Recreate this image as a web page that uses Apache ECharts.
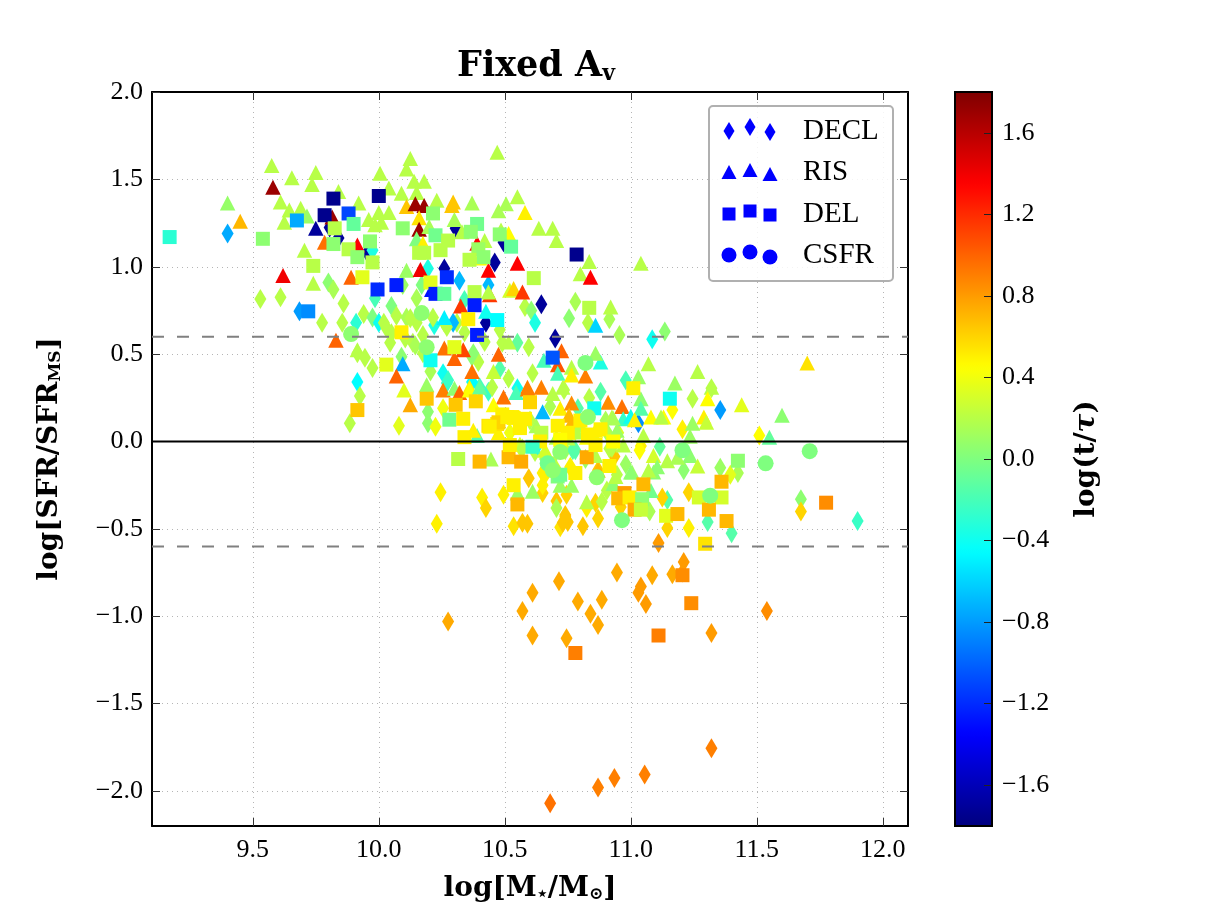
<!DOCTYPE html>
<html>
<head>
<meta charset="utf-8">
<title>Fixed Av</title>
<script src="https://cdn.jsdelivr.net/npm/echarts@6/dist/echarts.min.js"></script>
<style>html,body{margin:0;padding:0;background:#fff}#chart{width:1219px;height:919px}</style>
</head>
<body>
<div id="chart"></div>
<script>
// Star-forming galaxies by SFH class: [log stellar mass, log SFR/SFR_MS, log t/tau]
const decl = [
[9.40,1.19,-.75],[9.53,.815,.2],[9.61,.826,.2],[9.80,.91,.05],[9.82,.87,.15],[9.86,.79,.2],[9.775,.68,.2],[9.855,.68,.2],
[9.685,.745,-.8],[9.91,.68,-.3],[9.94,.73,.2],[9.985,.82,-.2],[10.05,.775,0],[10.07,.72,.2],[9.975,.71,0],[10.0,.68,-.4],
[10.02,.68,.2],[10.03,.65,.2],[10.05,.62,.2],[10.11,.71,.15],[10.15,.82,.15],[10.17,.895,0],[10.195,.99,-.35],[10.095,.895,.1],
[10.26,.99,-1.7],[9.805,1.225,-1.7],[9.84,1.165,-1.7],[9.955,1.08,-1.7],[9.975,1.095,-.35],[10.22,.665,-.35],[10.26,.68,.2],
[10.15,.68,.2],[10.215,.71,.2],[10.175,.61,.2],[10.105,.59,.2],[10.135,.565,.2],[10.045,.565,.2],[10.305,1.22,-1.7],
[10.495,1.14,-1.7],[10.46,1.025,-1.7],[10.32,.92,-.7],[10.435,.895,-.7],[10.645,.785,-1.7],[10.58,.77,.2],[10.605,.75,.05],
[10.78,.80,.15],[10.755,.705,.05],[10.62,.68,-.35],[10.83,.68,.2],[10.915,.70,.15],[10.955,.61,.15],[11.085,.585,-.4],
[11.135,.63,.05],[10.70,.59,-1.7],[10.425,.68,-1.7],[10.48,.64,.2],[10.34,.81,-.2],[10.31,.68,.2],[10.295,.68,-.7],
[10.34,.625,.2],[10.42,.57,.2],[10.49,.565,.2],[10.55,.565,-.1],[10.595,.54,.2],[10.37,.485,.05],[10.395,.455,.2],
[10.48,.415,-.15],[10.515,.36,.2],[10.61,.39,.2],[10.98,.35,-.2],[10.55,.305,-.4],[10.40,.31,-.2],[9.915,.505,.2],
[9.945,.48,.2],[9.975,.42,.2],[9.915,.34,-.45],[9.925,.26,.2],[9.885,.105,.2],[10.08,.09,.35],[10.195,.17,.05],
[10.195,.105,.05],[10.225,.085,.4],[10.255,.19,.4],[10.145,.55,.15],[10.09,.485,.05],[10.205,.40,.15],[10.255,.39,-.4],
[10.375,.505,.05],[10.735,.295,.2],[10.245,-.29,.5],[10.23,-.47,.5],[10.41,-.32,.5],[10.425,-.38,.6],[10.495,-.305,.5],
[10.595,-.21,.65],[10.65,-.295,.6],[10.705,-.34,.65],[10.705,-.38,.15],[10.535,-.485,.55],[10.57,-.465,.65],[10.59,-.47,.65],
[10.72,-.49,.55],[10.74,-.43,.65],[10.65,-.18,.5],[10.27,.335,-.25],[10.435,.285,-.25],[10.45,.31,.2],[11.245,.245,.2],
[11.32,.305,.2],[11.355,.18,-.8],[11.03,.105,-.85],[10.88,.285,-.15],[10.835,.25,.2],[10.79,.19,-.15],[11.165,.18,.45],
[11.205,.07,.5],[11.51,.035,.45],[11.04,-.025,.5],[11.115,-.03,-.1],[11.21,-.165,.05],[11.355,-.15,.1],[11.425,-.18,.15],
[11.395,-.19,.35],[11.145,-.335,-.15],[11.125,-.32,.6],[11.23,-.29,.6],[11.075,-.40,.15],[11.145,-.495,.6],[11.23,-.495,.5],
[11.305,-.46,-.15],[11.40,-.525,-.15],[11.675,-.33,.05],[11.675,-.40,.6],[11.90,-.455,-.25],[11.11,-.58,.8],[10.825,-.38,.5],
[10.86,-.35,.6],[10.885,-.345,.2],[10.87,-.44,.6],[10.81,-.485,.65],[10.745,-.305,.6],[10.74,-.42,.65],[10.75,-.46,.65],
[10.73,-.465,.65],[10.935,-.085,.65],[10.87,-.165,.65],[10.76,-.15,.5],[10.905,-.28,.2],[10.96,-.375,.6],[10.925,-.035,.2],
[10.78,-.05,-.15],[10.52,.05,.4],[10.56,-.03,.3],[10.62,-.06,.2],[10.66,-.1,.1],[10.7,-.15,.3],[10.74,-.05,.2],[10.78,.06,.4],
[10.82,-.1,.1],[10.86,0,.3],[10.9,.12,.15],[10.95,.05,.3],[10.98,-.13,.1],[10.6,.12,.2],[10.68,.2,.15],
[10.76,.077,.7],[10.905,.055,.15],[10.915,-.04,.2],[10.52,-.04,.3],[10.57,-.04,.2],[10.63,-.02,-.45],[10.77,-.05,-.15],[10.76,-.145,.5],
[10.66,-.19,.5],[10.65,-.25,.5],[10.945,-.19,.2],[11.035,-.05,.45],[10.125,.705,.2],[10.27,.655,.2],[10.175,.505,.2],[10.275,.35,-.25],[10.37,.34,-.45],
[10.275,-1.03,.75],[10.57,-.97,.75],[10.61,-.865,.75],[10.61,-1.11,.75],[10.715,-.8,.75],[10.79,-.915,.75],[10.84,-.985,.75],
[10.87,-1.05,.75],[10.885,-.905,.75],[10.945,-.75,.75],[10.745,-1.125,.75],[11.03,-.865,.8],[11.04,-.83,.8],[11.06,-.93,.8],
[11.085,-.765,.75],[11.165,-.76,.75],[11.21,-.69,.8],[11.205,-.75,.8],[11.32,-1.095,.8],[11.54,-.97,.85],[11.32,-1.755,.9],
[10.68,-2.07,.95],[10.87,-1.98,.9],[10.935,-1.925,.9],[11.055,-1.905,.9]
];
const ris = [
[9.575,1.58,.2],[9.655,1.51,.2],[9.75,1.54,.2],[9.735,1.47,.2],[9.40,1.365,.08],[9.45,1.26,.7],[9.58,1.455,1.7],[9.61,1.37,.2],
[9.645,1.325,.2],[9.69,1.335,.2],[9.715,1.29,.1],[9.625,1.255,.2],[9.84,1.43,.2],[9.92,1.365,.2],[9.815,1.285,1.7],[9.75,1.22,-1.7],
[9.96,1.27,.2],[9.985,1.24,.2],[10.01,1.255,.2],[10.0,1.31,.2],[10.04,1.31,.2],[10.005,1.535,.2],[10.04,1.45,.2],[10.09,1.42,.2],
[10.125,1.62,.2],[10.11,1.56,.2],[10.14,1.49,.2],[10.18,1.49,.2],[10.15,1.425,.2],[10.11,1.345,.65],[10.145,1.36,1.7],[10.18,1.35,1.7],
[10.16,1.28,.55],[10.16,1.215,1.7],[10.2,1.23,.15],[10.15,1.16,0],[10.175,1.135,.5],[10.29,1.35,.65],[9.705,1.095,.2],[9.785,1.14,.95],
[9.915,1.125,1.35],[9.62,.95,1.4],[9.74,.905,.2],[9.89,.94,1],[10.11,.98,.1],[10.165,.985,1.4],[10.21,.87,-1.3],[10.26,.71,-.5],
[9.83,.58,1],[9.915,.525,.2],[10.26,.535,.95],[10.47,1.655,.2],[10.55,1.40,.2],[10.505,1.36,.15],[10.475,1.32,.15],[10.58,1.31,.5],
[10.37,1.365,.15],[10.295,1.37,.65],[10.30,1.27,.15],[10.635,1.22,.2],[10.69,1.22,.2],[10.705,1.15,.2],[10.835,1.03,.2],[10.80,.96,.2],
[10.84,.94,1.35],[11.04,1.02,.2],[10.55,1.02,1.35],[10.435,.98,1.35],[10.39,1.135,1.35],[10.485,1.21,.2],[10.515,1.19,.45],[10.52,.865,.3],
[10.535,.875,.6],[10.57,.855,1.15],[10.44,.84,1.15],[10.435,.855,.2],[10.325,.775,1.15],[10.425,.745,-.4],[10.86,.665,-.6],[10.92,.77,.2],
[10.335,.525,1.1],[10.30,.475,1],[10.475,.50,1],[10.515,.57,.2],[10.725,.52,1],[10.71,.44,1.05],[10.655,.465,-.2],[10.765,.425,.2],
[10.71,.39,-.2],[10.765,.38,.5],[10.82,.375,.9],[10.88,.455,-.35],[10.86,.505,.1],[10.37,.40,.95],[10.455,.40,.25],[11.07,.445,.2],
[11.03,.37,.1],[11.265,.40,.2],[11.175,.335,.1],[11.32,.31,.2],[10.59,.31,.9],[10.645,.31,.9],[10.73,.31,.2],[10.36,.31,.5],
[10.095,.445,-.75],[10.07,.375,1],[10.10,.295,.35],[10.125,.21,.75],[10.19,.325,.1],[10.255,.295,.9],[10.30,.305,.05],[10.32,.28,1],
[10.36,.295,.45],[10.40,.31,-.1],[10.495,.255,.95],[10.545,.28,-.2],[10.59,.30,.9],[10.69,.275,.2],[10.65,.17,-.7],[10.39,.035,-.15],
[10.445,-.10,.15],[10.61,-.285,.1],[10.55,-.295,.1],[10.72,.19,.5],[10.625,.09,.15],[10.705,.025,.2],[10.375,.065,.5],[10.475,.05,.5],
[10.455,.21,.45],[11.70,.45,.55],[11.305,.245,.45],[11.44,.21,.35],[11.60,.15,.05],[11.04,.245,.05],[11.04,.19,-.15],[10.91,.225,.85],
[10.965,.20,.95],[10.765,.22,.85],[10.755,.15,.7],[10.925,.14,.2],[10.97,.13,-.25],[11.0,.145,-.4],[11.08,.14,.45],[11.13,.14,.45],
[11.12,.14,.2],[11.29,.14,.5],[11.30,.11,.25],[11.245,.105,.1],[10.77,.085,.7],[10.895,.08,.2],[10.945,.065,.1],[11.05,.035,.2],
[11.235,.03,.1],[11.55,.025,-.1],[10.86,.065,.5],[10.80,.095,.2],[10.97,-.02,.2],[11.09,-.08,.3],[11.145,-.11,.2],[11.235,-.08,.05],
[11.185,-.09,.15],[11.265,-.14,.25],[11.005,-.175,.1],[11.105,-.145,.05],[11.09,-.175,.05],[11.07,-.165,.2],[10.93,-.24,.05],
[10.94,-.20,.2],[10.765,-.25,.1],[11.08,-.28,-.05],[10.86,-.08,.2],[10.23,1.38,.2],[10.33,1.2,.2],[10.42,1.15,.2],[10.4,1.05,.45],
[10.93,.135,.15],[10.785,.055,.2],[10.75,.02,.2],[10.825,.025,.45],[10.66,-.05,.3],[10.72,-.25,.1],[10.87,-.165,.7],[11.0,-.175,.05],
[11.015,.125,.5],[10.825,-.345,.2]
];
const del = [
[9.17,1.17,-.3],[9.54,1.16,.05],[9.675,1.265,-.75],[9.72,.745,-.85],[9.82,1.39,-1.75],[10.0,1.405,-1.75],[9.785,1.295,-1.75],
[9.88,1.305,-1.1],[9.90,1.245,-.1],[9.825,1.22,.2],[9.82,1.13,.05],[9.88,1.10,.2],[9.915,1.055,.05],[9.965,1.145,.05],[9.975,1.025,.2],
[9.74,1.005,.2],[9.935,.94,.35],[9.995,.87,-1.2],[10.07,.895,-1.25],[10.09,.625,.5],[10.095,1.22,.05],[10.215,1.305,.05],[10.225,1.18,-.05],
[10.18,1.08,.2],[10.16,1.08,.2],[10.245,1.095,.2],[10.275,1.15,.2],[10.205,.91,.35],[10.225,.845,-1.25],[10.26,.845,-.1],[10.27,.94,-1.2],
[10.785,1.07,-1.75],[10.39,1.245,-.05],[10.365,1.20,.05],[10.48,1.185,.05],[10.525,1.115,-.1],[10.615,.935,.2],[10.835,.765,.2],
[10.395,1.10,.1],[10.415,1.055,.05],[10.36,1.04,.2],[10.38,.855,.2],[10.38,.78,-1.25],[10.355,.70,.5],[10.47,.695,-.45],[10.39,.61,-1.25],
[10.30,.54,.35],[10.69,.48,-1.05],[11.01,.305,.5],[10.03,.44,.35],[10.205,.465,-.4],[9.915,.18,.65],[10.19,.245,.65],[10.305,.21,.65],
[10.385,.23,.6],[10.28,.125,-.05],[10.335,.13,.5],[10.34,.025,.5],[10.315,-.10,.2],[10.4,-.115,.7],[10.515,-.09,.7],[10.565,-.115,.75],
[10.6,.225,.6],[10.435,.09,.55],[10.49,.155,.5],[10.53,.14,.5],[10.56,.09,.55],[10.535,-.25,.5],[10.55,-.36,.7],[10.645,.05,.2],[10.71,.09,.5],
[10.71,-.20,0],[10.68,-.125,.2],[11.155,.245,-.4],[10.855,.19,-.4],[10.825,-.09,.75],[10.78,-.18,.5],[10.915,-.14,.5],[10.72,-.19,-.05],
[10.975,-.295,.8],[10.95,-.325,.7],[10.995,-.32,.5],[11.045,-.33,.05],[11.015,-.39,.75],[11.04,-.39,.25],[11.05,-.245,.7],[11.14,-.425,.35],
[11.185,-.415,.7],[11.27,-.32,.3],[11.36,-.32,.3],[11.36,-.23,.7],[11.31,-.39,.7],[11.38,-.455,.7],[11.425,-.11,.05],[11.295,-.585,.55],
[11.24,-.925,.85],[11.205,-.765,.85],[11.11,-1.11,.9],[10.78,-1.21,.9],[11.775,-.35,.85],
[10.47,.10,.55],[10.58,.13,.5],[10.75,.05,.5],[10.8,.12,.5],[10.88,.07,.5],[10.93,0,.45],[10.52,-.02,.5],[10.64,0,.5],[10.72,.01,.45],[10.83,.04,.5],
[10.475,.11,.6],[10.44,.085,.5],[10.51,.14,.5],[10.56,.077,.5],[10.535,.135,.5],[10.86,-.02,.5],[10.61,-.03,-.25]
];
const csfr = [
[10.17,.735,.05],[9.89,.615,.05],[10.19,.54,.05],[10.82,.45,0],[10.83,.14,.05],[10.72,-.06,.05],[10.865,-.205,.05],[10.965,-.45,0],
[11.205,-.05,0],[11.315,-.31,0],[11.535,-.125,0],[11.71,-.055,0],[10.67,-.125,-.05],[10.69,-.165,.05]
];
const xTicks = [9.5,10,10.5,11,11.5,12];
const yTicks = [-2,-1.5,-1,-.5,0,.5,1,1.5,2];
const cbarTicks = [-1.6,-1.2,-.8,-.4,0,.4,.8,1.2,1.6];
const zeroLine = [[9.1,0],[12.1,0]];
const upperCut = [[9.1,.6],[12.1,.6]];
const lowerCut = [[9.1,-.6],[12.1,-.6]];
const jet = ['#00007f','#0000ff','#007fff','#00ffff','#7fff7f','#ffff00','#ff7f00','#ff0000','#7f0000'];
const serif = '"Liberation Serif","DejaVu Serif",serif';
const boldSerif = '"DejaVu Serif","Liberation Serif",serif';
const fix1 = v => v.toFixed(1).replace('-', '\u2212');

function frameAxis(extra) {
  return Object.assign({
    type: 'value',
    axisLine: {show: true, onZero: false, lineStyle: {color: '#000', width: 2}},
    axisTick: {show: true, inside: true, length: 8, lineStyle: {color: '#333', width: 1}},
    splitLine: {show: false}
  }, extra);
}
const gridStyle = {show: true, lineStyle: {color: '#b5b5b5', width: 1, type: [1, 4]}};
const richLabel = {
  b: {fontFamily: boldSerif, fontWeight: 'bold', fontSize: 28, color: '#000'},
  s: {fontFamily: boldSerif, fontWeight: 'bold', fontSize: 17, color: '#000', verticalAlign: 'bottom', padding: [11, 0, 0, 0]}
};

function scatter(name, data, symbol, size) {
  return {
    name, type: 'scatter', data, symbol, symbolSize: size, silent: true,
    encode: {x: 0, y: 1}, itemStyle: {opacity: 1}
  };
}
function refLine(name, data, color, width, type) {
  return {
    name, type: 'line', data, symbol: 'none', silent: true, z: 5,
    lineStyle: {color, width, type}
  };
}

// Hand-placed legend: three sample markers per row, as scatterpoints in the key
const legendBlue = '#0000ff';
const legendCols = [729, 750, 770];
const legendRows = [
  {label: 'DECL', ys: [131, 127, 132], kind: 'diamond'},
  {label: 'RIS',  ys: [172, 170, 174], kind: 'triangle'},
  {label: 'DEL',  ys: [214, 211, 215], kind: 'rect'},
  {label: 'CSFR', ys: [255, 252, 257], kind: 'circle'}
];
const legendGraphics = [{
  type: 'rect', shape: {x: 709, y: 106, width: 184, height: 175, r: 4}, z: 20,
  style: {fill: 'rgba(255,255,255,0.85)', stroke: '#b0b0b0', lineWidth: 2}
}, {
  // colour-bar outline, drawn over the gradient
  type: 'rect', shape: {x: 955, y: 92, width: 37, height: 734}, z: 30,
  style: {fill: 'none', stroke: '#000', lineWidth: 2}
}];
function legendMark(kind, x, y) {
  const style = {fill: legendBlue};
  if (kind === 'circle') return {type: 'circle', shape: {cx: x, cy: y, r: 7.5}, style, z: 21};
  if (kind === 'rect') return {type: 'rect', shape: {x: x - 6.5, y: y - 6.5, width: 13, height: 13}, style, z: 21};
  if (kind === 'triangle') return {type: 'polygon', shape: {points: [[x - 7.5, y + 7], [x + 7.5, y + 7], [x, y - 7]]}, style, z: 21};
  return {type: 'polygon', shape: {points: [[x - 5.5, y], [x, y - 9], [x + 5.5, y], [x, y + 9]]}, style, z: 21};
}
legendRows.forEach(row => {
  row.ys.forEach((y, i) => legendGraphics.push(legendMark(row.kind, legendCols[i], y)));
  legendGraphics.push({
    type: 'text', x: 803, y: row.ys[0], z: 21,
    style: {text: row.label, fontFamily: serif, fontSize: 29, fill: '#000', textVerticalAlign: 'middle'}
  });
});

const chart = echarts.init(document.getElementById('chart'), null, {renderer: 'canvas'});
chart.setOption({
  animation: false,
  backgroundColor: '#fff',
  title: {
    text: '{t|Fixed A}{v|v}',
    left: 531, top: 44, textAlign: 'center',
    textStyle: {rich: {
      t: {fontFamily: boldSerif, fontWeight: 'bold', fontSize: 35, color: '#000'},
      v: {fontFamily: boldSerif, fontWeight: 'bold', fontSize: 22, color: '#000', padding: [14, 0, 0, 0]}
    }}
  },
  grid: [
    {left: 152, top: 92, width: 756, height: 734},
    {left: 955, top: 92, width: 37, height: 734, z: 10}
  ],
  xAxis: [
    frameAxis({
      min: 9.1, max: 12.1, position: 'bottom', gridIndex: 0,
      axisTick: {show: true, inside: true, length: 8, lineStyle: {color: '#333'}, customValues: xTicks},
      axisLabel: {customValues: xTicks, formatter: fix1, margin: 11, fontFamily: serif, fontSize: 26, color: '#000'},
      splitLine: gridStyle,
      name: '{b|log[M}{s|\u22C6}{b|/M}{s|\u2299}{b|]}',
      nameLocation: 'middle', nameGap: 49, nameTextStyle: {rich: richLabel}
    }),
    frameAxis({
      min: 9.1, max: 12.1, position: 'top', gridIndex: 0,
      axisTick: {show: true, inside: true, length: 8, lineStyle: {color: '#333'}, customValues: xTicks},
      axisLabel: {show: false}
    }),
    {type: 'value', gridIndex: 1, min: 0, max: 1, show: false}
  ],
  yAxis: [
    frameAxis({
      min: -2.2, max: 2, position: 'left', gridIndex: 0,
      axisTick: {show: true, inside: true, length: 8, lineStyle: {color: '#333'}, customValues: yTicks},
      axisLabel: {customValues: yTicks, formatter: fix1, margin: 9, fontFamily: serif, fontSize: 26, color: '#000'},
      splitLine: gridStyle,
      name: '{b|log[SFR/SFR}{s|MS}{b|]}',
      nameLocation: 'middle', nameGap: 88, nameRotate: 90, nameTextStyle: {rich: richLabel}
    }),
    frameAxis({
      min: -2.2, max: 2, position: 'right', gridIndex: 0,
      axisTick: {show: true, inside: true, length: 8, lineStyle: {color: '#333'}, customValues: yTicks},
      axisLabel: {show: false}
    }),
    frameAxis({
      min: -1.8, max: 1.8, position: 'right', gridIndex: 1, z: 12,
      axisTick: {show: true, inside: true, length: 8, lineStyle: {color: '#222'}, customValues: cbarTicks},
      axisLabel: {customValues: cbarTicks, formatter: fix1, margin: 10, fontFamily: serif, fontSize: 26, color: '#000'},
      name: '{b|log(t/}{i|\u03C4}{b|)}',
      nameLocation: 'middle', nameGap: 81, nameRotate: 90,
      nameTextStyle: {rich: Object.assign({}, richLabel, {
        i: {fontFamily: boldSerif, fontStyle: 'italic', fontWeight: 'bold', fontSize: 28, color: '#000'}
      })}
    })
  ],
  visualMap: {
    type: 'continuous', dimension: 2, seriesIndex: [0, 1, 2, 3],
    min: -1.8, max: 1.8, inRange: {color: jet},
    left: 955, top: 92, itemWidth: 37, itemHeight: 734, padding: 0,
    calculable: false, realtime: false, hoverLink: false, showLabel: false, text: null,
    textStyle: {fontSize: 0}
  },
  series: [
    scatter('DECL', decl, 'diamond', [12, 20]),
    scatter('RIS', ris, 'triangle', [15.5, 15]),
    scatter('DEL', del, 'rect', 14),
    scatter('CSFR', csfr, 'circle', 16),
    refLine('zero', zeroLine, '#000', 2, 'solid'),
    refLine('upper', upperCut, '#808080', 2, [12, 13]),
    refLine('lower', lowerCut, '#808080', 2, [12, 13])
  ],
  graphic: {elements: legendGraphics}
});
</script>
</body>
</html>
